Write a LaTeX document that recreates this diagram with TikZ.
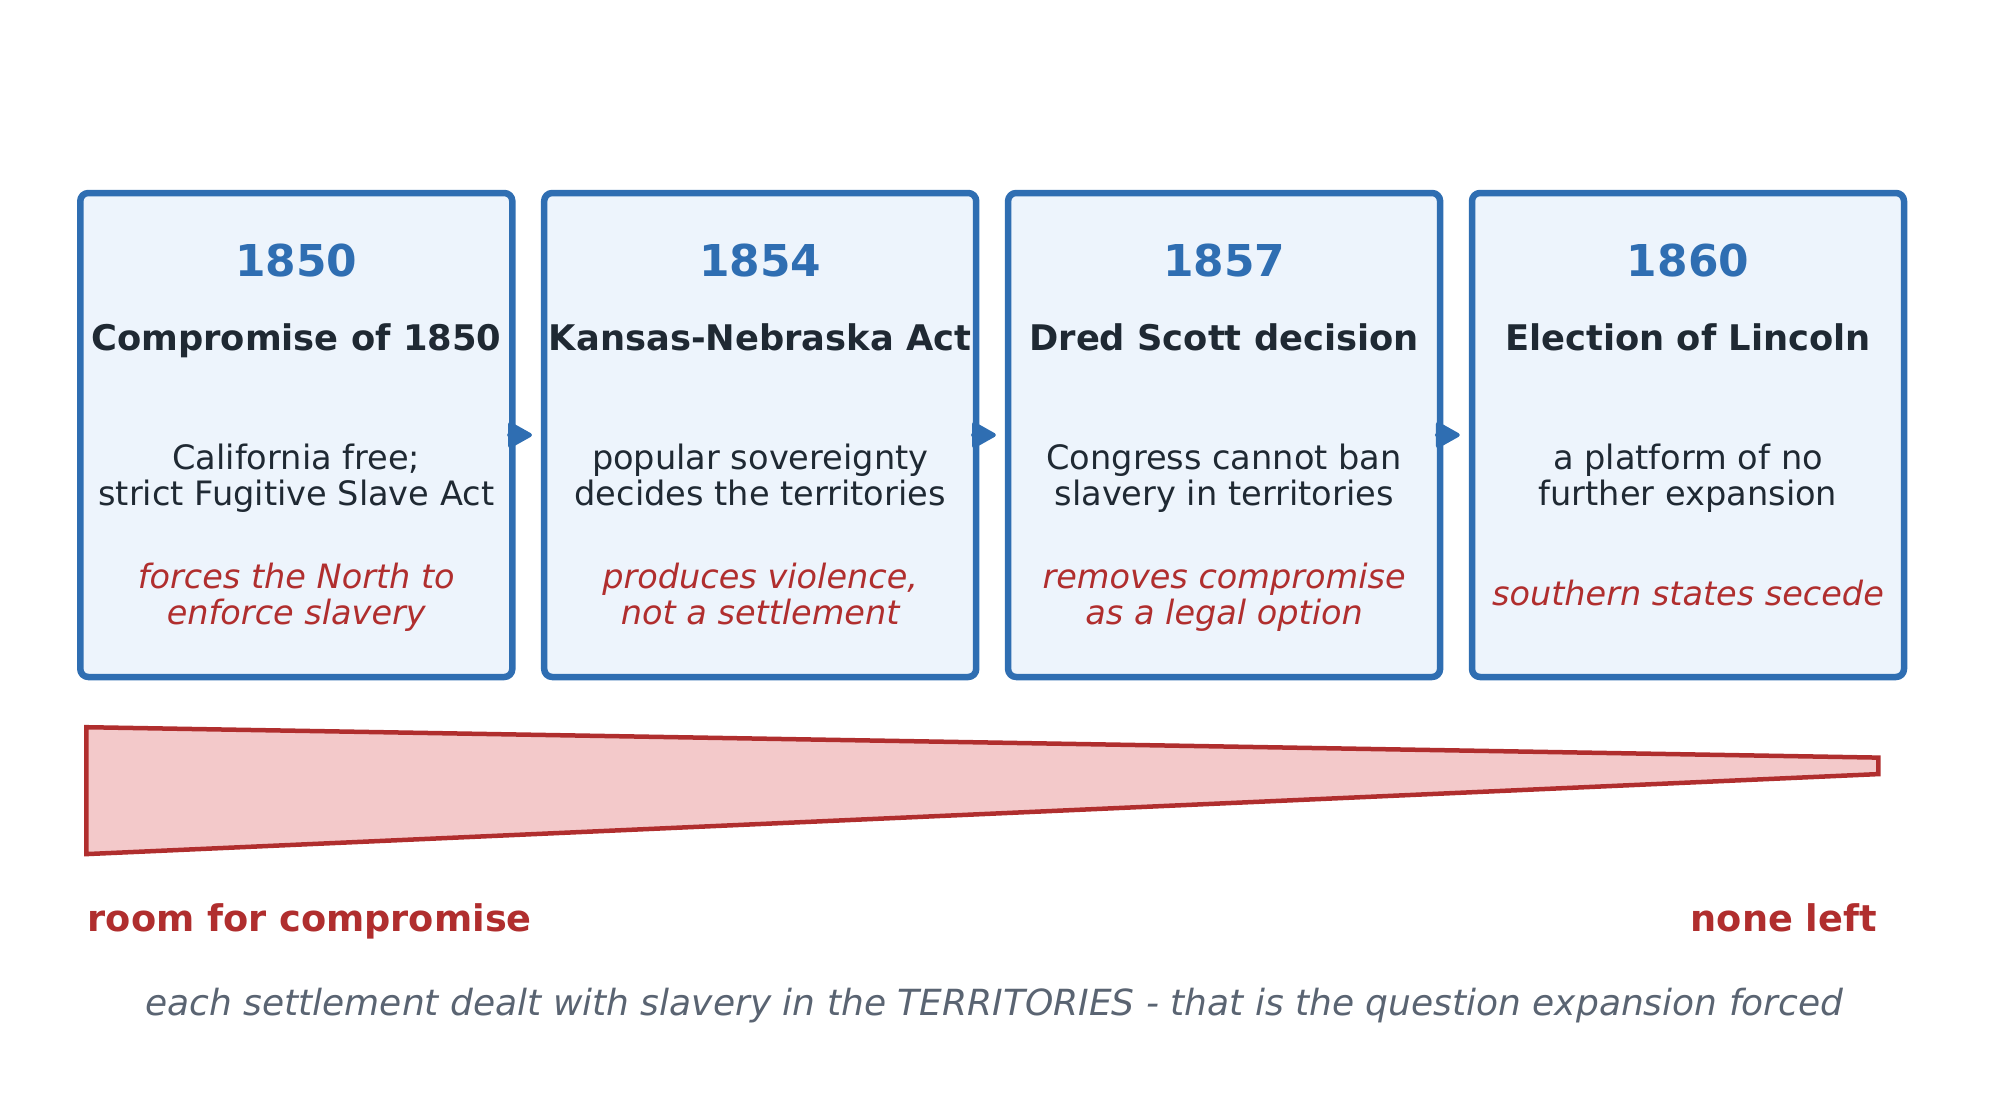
\documentclass[tikz,border=0pt]{standalone}
\usepackage{fontspec}
\setmainfont{DejaVu Sans}
\usetikzlibrary{arrows.meta}
\definecolor{cardblue}{HTML}{2F6EB2}
\definecolor{cardfill}{HTML}{EDF4FC}
\definecolor{inkdark}{HTML}{1F2933}
\definecolor{losered}{HTML}{B02E2E}
\definecolor{wedgepink}{HTML}{F3C9CA}
\definecolor{notegray}{HTML}{5A6472}
\begin{document}
\begin{tikzpicture}[x=1pt,y=-1pt,line join=round,line cap=round,
	card/.style={draw=cardblue,fill=cardfill,line width=6.5pt,rounded corners=8pt,minimum width=432pt,minimum height=484pt,inner sep=0pt},
	year/.style={anchor=base,inner sep=0pt,text=cardblue,font=\fontsize{43.9}{50}\selectfont\bfseries},
	head/.style={anchor=base,inner sep=0pt,text=inkdark,font=\fontsize{35.3}{40}\selectfont\bfseries},
	fact/.style={anchor=base,inner sep=0pt,text=inkdark,align=center,font=\fontsize{33.6}{36}\selectfont},
	result/.style={anchor=base,inner sep=0pt,text=losered,align=center,font=\fontsize{33.5}{36}\selectfont\itshape},
	flow/.style={-{Triangle[length=26pt,width=28pt,round]},line width=4pt,draw=cardblue,fill=cardblue,shorten >=9pt},
	wedge/.style={draw=losered,fill=wedgepink,line width=4.5pt,line join=miter}]
	\useasboundingbox (0,0) rectangle (1990,1100);
	\def\xfirst{296.3};
	\def\xstep{463.9};
	% the four settlements
	\foreach \yr/\ttl/\fct/\res/\ry [count=\i] in {
		1850/{Compromise of 1850}/{California free;\\strict Fugitive Slave Act}/{forces the North to\\enforce slavery}/624,
		1854/{Kansas-Nebraska Act}/{popular sovereignty\\decides the territories}/{produces violence,\\not a settlement}/624,
		1857/{Dred Scott decision}/{Congress cannot ban\\slavery in territories}/{removes compromise\\as a legal option}/624,
		1860/{Election of Lincoln}/{a platform of no\\further expansion}/{southern states secede}/605}{
		\pgfmathsetmacro{\cx}{\xfirst+\xstep*(\i-1)}
		\node[card] (c\i) at (\cx,435) {};
		\node[year] (y\i) at (\cx,276) {\yr};
		\node[head] (t\i) at (\cx,350) {\ttl};
		\node[fact] (f\i) at (\cx,505) {\fct};
		\node[result] (r\i) at (\cx,\ry) {\res};
	}
	\foreach \i [evaluate=\i as \j using int(\i+1)] in {1,2,3}
		\draw[flow] (c\i) -- (c\j);
	% shrinking room
	\draw[wedge] (86.3,727.2) -- (1878.3,757.6) -- (1878.3,774.1) -- (86.3,854.1) -- cycle;
	\node[anchor=base west,inner sep=0pt,text=losered,font=\fontsize{36.7}{40}\selectfont\bfseries] (room) at (87.6,931) {room for compromise};
	\node[anchor=base east,inner sep=0pt,text=losered,font=\fontsize{36.7}{40}\selectfont\bfseries] (none) at (1877,931) {none left};
	\node[anchor=base,inner sep=0pt,text=notegray,font=\fontsize{36}{40}\selectfont\itshape] (note) at (994.3,1015) {each settlement dealt with slavery in the TERRITORIES - that is the question expansion forced};
\end{tikzpicture}
\end{document}
